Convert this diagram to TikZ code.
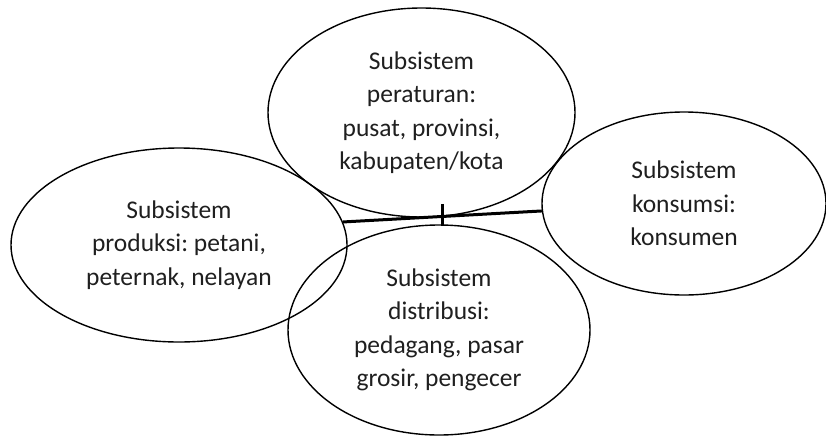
\documentclass[tikz,border=0pt]{standalone}
\usepackage{fontspec}
\setmainfont{Carlito}
\usetikzlibrary{shapes.geometric, calc}
\frenchspacing

\begin{document}
\begin{tikzpicture}[x=1pt, y=-1pt]
	\tikzstyle{every node} = [ellipse, draw, line width=1.4pt, inner sep=0pt, align=center, text=black!88, font=\fontsize{25.5}{33.5}\selectfont]
	\tikzstyle{link} = [line width=3pt]
	\useasboundingbox (0,0) rectangle (826,437);
	\node[minimum width=307pt, minimum height=209pt] (atur) at (421.5, 112.5) {Subsistem\\peraturan:\\pusat, provinsi,\\kabupaten/kota};
	\node[minimum width=336pt, minimum height=194pt] (prod) at (179, 245) {Subsistem\\produksi: petani,\\peternak, nelayan};
	\node[minimum width=284pt, minimum height=183pt] (kons) at (684, 203.5) {Subsistem\\konsumsi:\\konsumen};
	\node[minimum width=302pt, minimum height=210pt] (dist) at (439, 330) {Subsistem\\distribusi:\\pedagang, pasar\\grosir, pengecer};
	\draw [link] (prod.8)--(kons.183.5);
	\coordinate (mid) at ($(prod.8)!0.5!(kons.183.5)$);
	\draw [link] ([yshift=12.5pt]mid)--([yshift=-10pt]mid);
\end{tikzpicture}
\end{document}
